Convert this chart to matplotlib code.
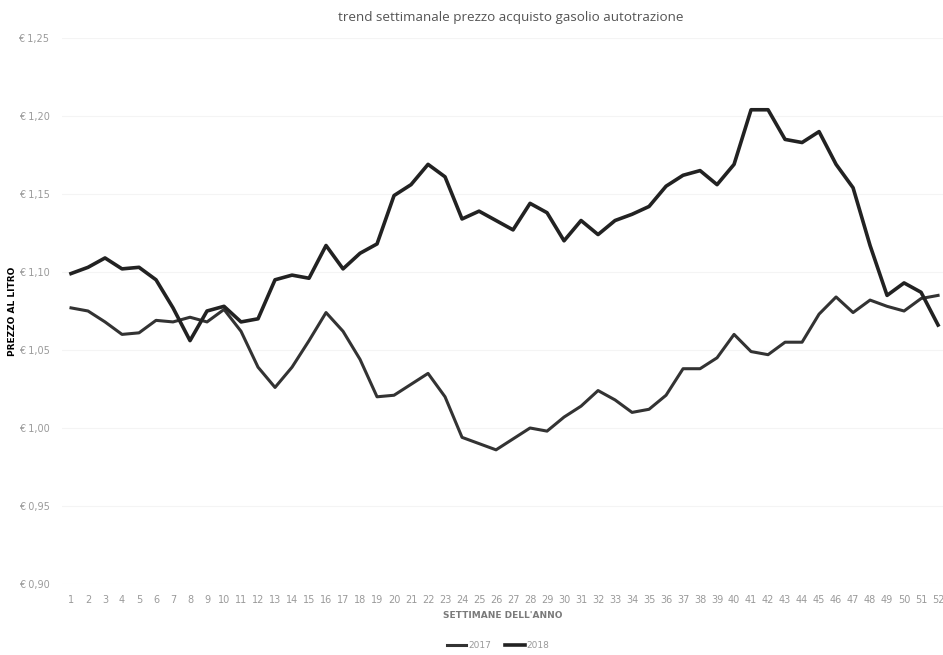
import matplotlib.pyplot as plt
from matplotlib.ticker import FuncFormatter

# settimane dell'anno
settimane = list(range(1, 53))

# prezzo al litro 2017 (linea piu' sottile)
prezzi_2017 = [1.077, 1.075, 1.068, 1.060, 1.061, 1.069, 1.068, 1.071, 1.068, 1.076,
               1.062, 1.039, 1.026, 1.039, 1.056, 1.074, 1.062, 1.044, 1.020, 1.021,
               1.028, 1.035, 1.020, 0.994, 0.990, 0.986, 0.993, 1.000, 0.998, 1.007,
               1.014, 1.024, 1.018, 1.010, 1.012, 1.021, 1.038, 1.038, 1.045, 1.060,
               1.049, 1.047, 1.055, 1.055, 1.073, 1.084, 1.074, 1.082, 1.078, 1.075,
               1.083, 1.085]

# prezzo al litro 2018
prezzi_2018 = [1.099, 1.103, 1.109, 1.102, 1.103, 1.095, 1.077, 1.056, 1.075, 1.078,
               1.068, 1.070, 1.095, 1.098, 1.096, 1.117, 1.102, 1.112, 1.118, 1.149,
               1.156, 1.169, 1.161, 1.134, 1.139, 1.133, 1.127, 1.144, 1.138, 1.120,
               1.133, 1.124, 1.133, 1.137, 1.142, 1.155, 1.162, 1.165, 1.156, 1.169,
               1.204, 1.204, 1.185, 1.183, 1.190, 1.169, 1.154, 1.117, 1.085, 1.093,
               1.087, 1.066]

yticks = [0.90, 0.95, 1.00, 1.05, 1.10, 1.15, 1.20, 1.25]

fig = plt.figure(figsize=(9.43, 6.55), dpi=100)
ax = fig.add_axes([62 / 943, 71 / 655, 881 / 943, 546 / 655])

ax.plot(settimane, prezzi_2017, color='#333333', lw=2.2, label='2017')
ax.plot(settimane, prezzi_2018, color='#222222', lw=2.6, label='2018')

ax.set_xlim(0.47, 52.29)
ax.set_ylim(0.90, 1.25)
ax.set_yticks(yticks)
ax.yaxis.set_major_formatter(FuncFormatter(lambda v, p: '€ ' + ('%.2f' % v).replace('.', ',')))
ax.set_xticks(settimane)
ax.set_xticklabels([str(s) for s in settimane])
ax.tick_params(axis='both', length=0, labelsize=7, labelcolor='#9a9a9a')
ax.tick_params(axis='x', pad=8)
ax.tick_params(axis='y', pad=9)

for s in ax.spines.values():
    s.set_visible(False)
ax.grid(axis='y', color='#f4f4f4', lw=0.8)
ax.set_axisbelow(True)

ax.set_ylabel('PREZZO AL LITRO', fontsize=6.5, fontweight='bold', color='black', labelpad=1)
ax.set_xlabel("SETTIMANE DELL'ANNO", fontsize=6.5, fontweight='bold', color='#7a7a7a', labelpad=4)

fig.text(0.542, 0.974, 'trend settimanale prezzo acquisto gasolio autotrazione',
         ha='center', va='center', fontsize=9.7, color='#555555', family='Open Sans')

fig.legend(loc='center', bbox_to_anchor=(0.528, 0.015), ncol=2, frameon=False,
           fontsize=6.5, labelcolor='#9a9a9a', handlelength=2.2, handletextpad=0.2,
           columnspacing=1.5)

fig.savefig('out.png', dpi=100)
